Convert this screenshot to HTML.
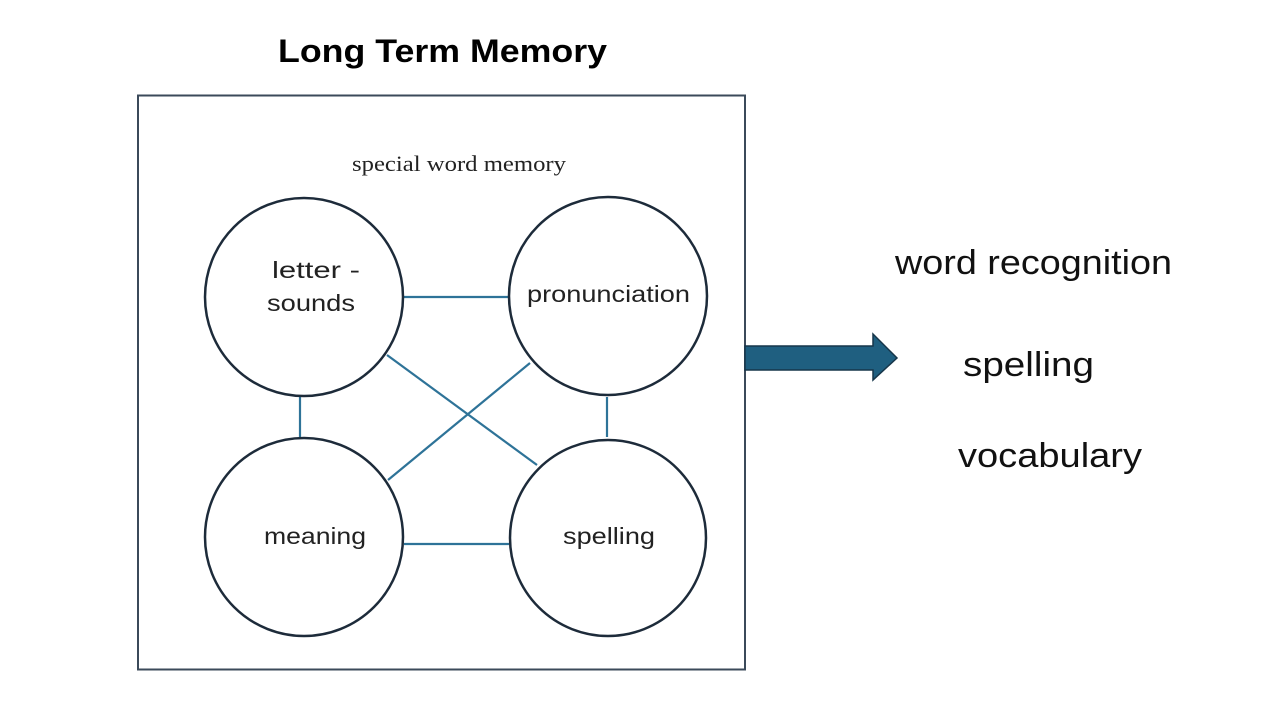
<!DOCTYPE html>
<html><head><meta charset="utf-8"><style>
html,body{margin:0;padding:0;background:#fff;}
body{width:1280px;height:720px;overflow:hidden;position:relative;}
</style></head><body>
<svg width="1280" height="720" viewBox="0 0 1280 720" xmlns="http://www.w3.org/2000/svg" style="position:absolute;left:0;top:0">
<text x="278" y="62" textLength="329" lengthAdjust="spacingAndGlyphs" font-family="Liberation Sans, sans-serif" font-weight="bold" font-size="32" fill="#000">Long Term Memory</text>
<rect x="138" y="95.5" width="607" height="574" fill="none" stroke="#3b4a5a" stroke-width="2"/>
<text x="352" y="171" textLength="214" lengthAdjust="spacingAndGlyphs" font-family="Liberation Serif, serif" font-size="22" fill="#222">special word memory</text>
<g stroke="#2e7398" stroke-width="2.2">
<line x1="403" y1="297" x2="508" y2="297"/>
<line x1="404" y1="544" x2="509" y2="544"/>
<line x1="300" y1="397" x2="300" y2="437"/>
<line x1="607" y1="397" x2="607" y2="437"/>
<line x1="387" y1="355" x2="537" y2="465"/>
<line x1="530" y1="363" x2="388" y2="480"/>
</g>
<g fill="#fff" stroke="#1d2b3a" stroke-width="2.5">
<circle cx="304" cy="297" r="99"/>
<circle cx="608" cy="296" r="99"/>
<circle cx="304" cy="537" r="99"/>
<circle cx="608" cy="538" r="98"/>
</g>
<g font-family="Liberation Sans, sans-serif" font-size="23" fill="#222" lengthAdjust="spacingAndGlyphs">
<text x="272" y="278" textLength="88" lengthAdjust="spacingAndGlyphs">letter -</text>
<text x="267" y="311" textLength="88" lengthAdjust="spacingAndGlyphs">sounds</text>
<text x="527" y="302" textLength="163" lengthAdjust="spacingAndGlyphs">pronunciation</text>
<text x="264" y="544" textLength="102" lengthAdjust="spacingAndGlyphs">meaning</text>
<text x="563" y="544" textLength="92" lengthAdjust="spacingAndGlyphs">spelling</text>
</g>
<polygon points="745,346 873,346 873,334 897,358 873,380 873,370 745,370" fill="#1f5f80" stroke="#17364a" stroke-width="1.5"/>
<g font-family="Liberation Sans, sans-serif" font-size="34" fill="#111">
<text x="895" y="274" textLength="277" lengthAdjust="spacingAndGlyphs">word recognition</text>
<text x="963" y="376" textLength="131" lengthAdjust="spacingAndGlyphs">spelling</text>
<text x="958" y="467" textLength="184" lengthAdjust="spacingAndGlyphs">vocabulary</text>
</g>
</svg>
</body></html>
